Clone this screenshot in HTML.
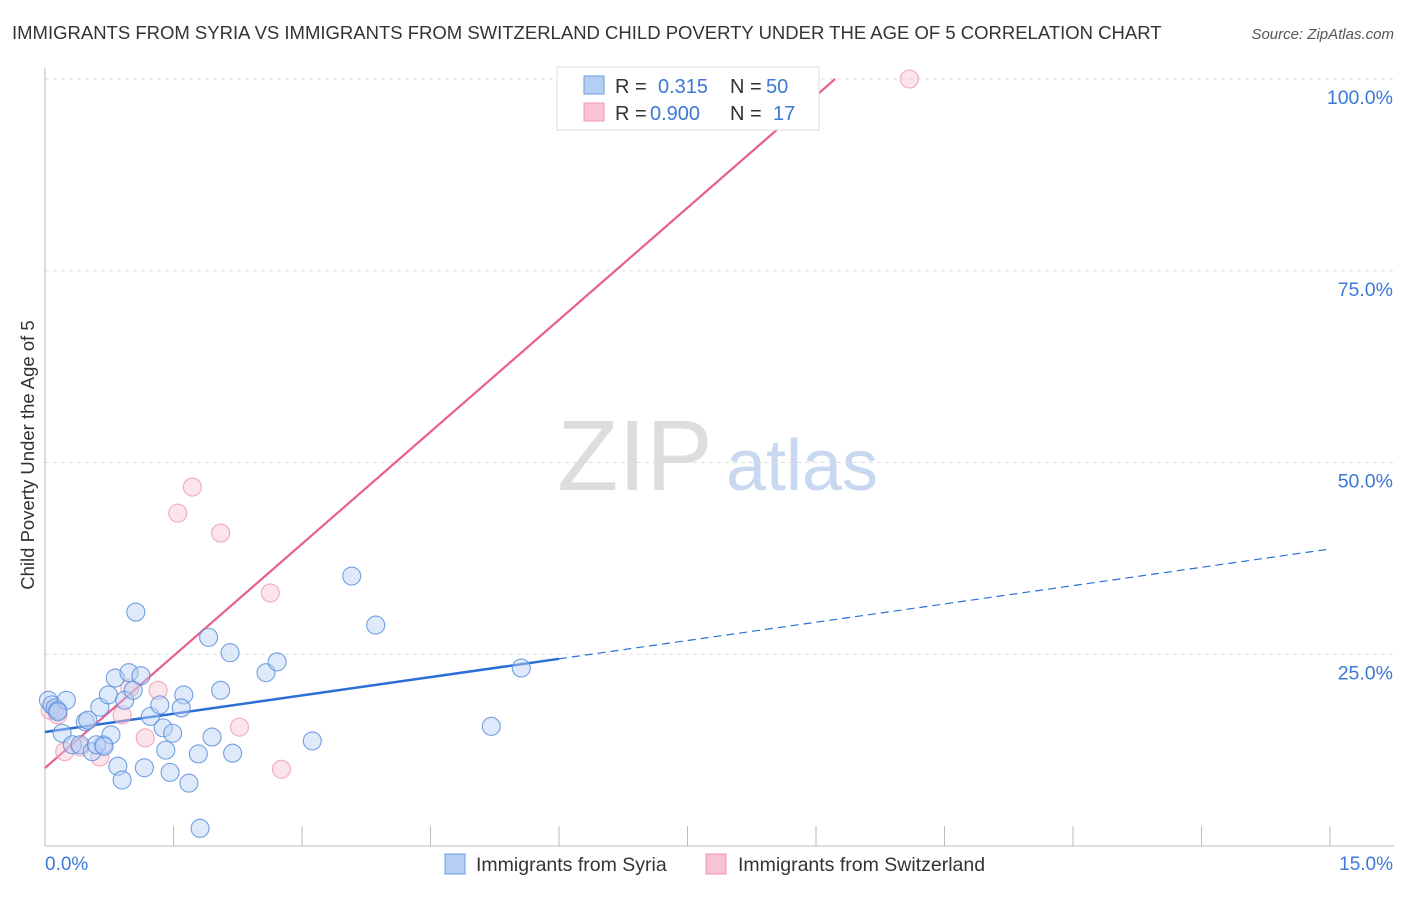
<!DOCTYPE html>
<html><head><meta charset="utf-8"><style>
body{margin:0;background:#fff;font-family:"Liberation Sans",sans-serif;}
svg text{font-family:"Liberation Sans",sans-serif;}
</style></head><body>
<svg width="1406" height="892" xmlns="http://www.w3.org/2000/svg">
<text x="12" y="39" font-size="18.5" fill="#333">IMMIGRANTS FROM SYRIA VS IMMIGRANTS FROM SWITZERLAND CHILD POVERTY UNDER THE AGE OF 5 CORRELATION CHART</text>
<text x="1394" y="39" font-size="15" fill="#555" font-style="italic" text-anchor="end">Source: ZipAtlas.com</text>
<text transform="translate(34,455) rotate(-90)" font-size="18.5" fill="#333" text-anchor="middle">Child Poverty Under the Age of 5</text>
<g><text x="635" y="490" font-size="100" font-family="Liberation Serif" fill="#ddd" text-anchor="middle">ZIP</text><text x="802" y="490" font-size="72" fill="#c8d8f0" text-anchor="middle">atlas</text></g>
<g id="grid"></g><g id="axes"></g><g id="lines"></g><g id="pts"></g>
<g>
<rect x="557" y="67" width="262" height="63" fill="#fff" stroke="#ddd"/>
<rect x="584" y="76" width="20" height="18" fill="#b5cff3" stroke="#6a9de0"/>
<rect x="584" y="103" width="20" height="18" fill="#f9c3d3" stroke="#ee9ab4"/>
<text x="615" y="93" font-size="20" fill="#333">R = </text><text x="658" y="93" font-size="20" fill="#3b78d8">0.315</text>
<text x="730" y="93" font-size="20" fill="#333">N = </text><text x="766" y="93" font-size="20" fill="#3b78d8">50</text>
<text x="615" y="120" font-size="20" fill="#333">R = </text><text x="650" y="120" font-size="20" fill="#3b78d8">0.900</text>
<text x="730" y="120" font-size="20" fill="#333">N = </text><text x="773" y="120" font-size="20" fill="#3b78d8">17</text>
</g>
<g>
<rect x="445" y="854" width="20" height="20" fill="#b5cff3" stroke="#6a9de0"/>
<text x="476" y="871" font-size="19.5" fill="#333">Immigrants from Syria</text>
<rect x="706" y="854" width="20" height="20" fill="#f9c3d3" stroke="#ee9ab4"/>
<text x="738" y="871" font-size="19.5" fill="#333">Immigrants from Switzerland</text>
</g>
</svg>
<script>
const syriaX=[0.04,0.08,0.12,0.15,0.25,0.47,0.20,0.32,0.41,0.55,0.64,0.68,0.74,0.77,0.82,0.85,0.90,0.93,0.98,1.03,1.06,1.12,1.16,1.23,1.34,1.38,1.41,1.46,1.49,1.62,1.59,1.68,1.79,1.81,1.91,1.95,2.05,2.16,2.19,2.58,2.71,3.12,3.58,3.86,5.21,5.56,0.60,0.50,0.15,0.69];
const syriaY=[19.0,18.4,18.0,17.7,19.0,16.2,14.7,13.2,13.2,12.3,18.1,13.2,19.7,14.5,21.9,10.4,8.6,19.0,22.6,20.3,30.5,22.2,10.2,16.9,18.4,15.4,12.5,9.6,14.7,19.7,18.0,8.2,12.0,2.3,27.2,14.2,20.3,25.2,12.1,22.6,24.0,13.7,35.2,28.8,15.6,23.2,13.2,16.4,17.5,13.0];
const swissX=[0.06,0.15,0.23,0.41,0.64,0.90,0.99,1.32,1.17,1.55,1.72,2.05,2.27,2.63,2.76,10.09,7.18];
const swissY=[17.7,17.1,12.3,12.9,11.6,17.1,20.6,20.3,14.1,43.4,46.8,40.8,15.5,33.0,10.0,100,100];
const yTicks=[25,50,75,100];
const yTickLabels=["25.0%","50.0%","75.0%","100.0%"];
const xTicks=[0,1.5,3,4.5,6,7.5,9,10.5,12,13.5,15];
const syriaFit=[14.86,38.72];   // y at x=0, y at x=15
const swissFit=[10.17,9.74];    // intercept, slope
const X=v=>45+v/15*1285, Y=v=>846-v*7.67;
const NS="http://www.w3.org/2000/svg";
function mk(t,a,p){const e=document.createElementNS(NS,t);for(const k in a)e.setAttribute(k,a[k]);p.appendChild(e);return e;}
const grid=document.getElementById('grid'),axes=document.getElementById('axes'),lines=document.getElementById('lines'),pts=document.getElementById('pts');
yTicks.forEach((t,i)=>{
 const l=mk('line',{x1:45,x2:1394,y1:Y(t),y2:Y(t),stroke:'#ddd','stroke-dasharray':'4,4'},grid);
 
 
 const tx=mk('text',{x:1393,y:Y(t)+25,'font-size':19.5,fill:'#3b78d8','text-anchor':'end'},axes);
 tx.textContent=yTickLabels[i];
 
 
});
mk('line',{x1:45,x2:45,y1:68,y2:846,stroke:'#bbb'},axes);
mk('line',{x1:45,x2:1394,y1:846,y2:846,stroke:'#bbb'},axes);
xTicks.forEach(t=>{const l=mk('line',{x1:X(t),x2:X(t),y1:826,y2:846,stroke:'#bbb'},axes);
 
 });
let t0=mk('text',{x:45,y:870,'font-size':19,fill:'#3b78d8'},axes);t0.textContent='0.0%';


let t1=mk('text',{x:1393,y:870,'font-size':19,fill:'#3b78d8','text-anchor':'end'},axes);t1.textContent='15.0%';


function draw(xs,ys,fill,stroke,name){xs.forEach((x,i)=>{const c=mk('circle',{cx:X(x),cy:Y(ys[i]),r:9,fill:fill,'fill-opacity':0.45,stroke:stroke,'stroke-width':1.1,'stroke-opacity':0.85},pts);
 
 });}
draw(swissX,swissY,'#f9c3d3','#ee9ab4','switzerland-point');
draw(syriaX,syriaY,'#b5cff3','#5b8fdc','syria-point');
const sb=x=>syriaFit[0]+(syriaFit[1]-syriaFit[0])*x/15;
const bl=mk('line',{x1:X(0),y1:Y(sb(0)),x2:X(6),y2:Y(sb(6)),stroke:'#2a6fd6','stroke-width':2.5},lines);


const bd=mk('line',{x1:X(6),y1:Y(sb(6)),x2:X(15),y2:Y(sb(15)),stroke:'#2a6fd6','stroke-width':1.2,'stroke-dasharray':'8,5'},lines);


const xe=(100-swissFit[0])/swissFit[1];
const pl=mk('line',{x1:X(0),y1:Y(swissFit[0]),x2:X(xe),y2:Y(100),stroke:'#e8608c','stroke-width':2.2},lines);


</script>
</body></html>
